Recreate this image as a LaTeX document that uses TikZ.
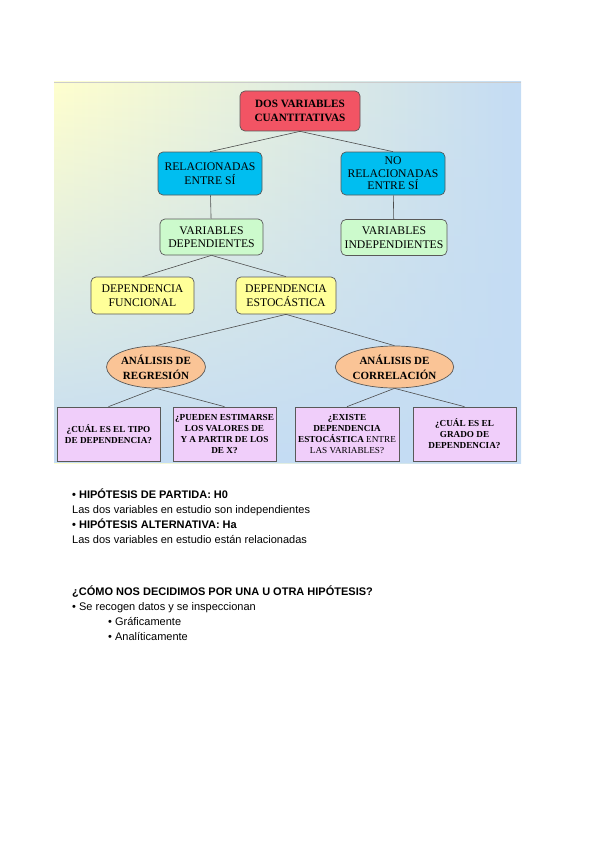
\documentclass[tikz,border=0pt]{standalone}
\usepackage{fontspec}
\setmainfont{Liberation Serif}
\newfontfamily\arialfont{Liberation Sans}
\usetikzlibrary{positioning,shapes.geometric,fadings}

\definecolor{bgyellow}{RGB}{255,255,206}
\definecolor{bgblue}{RGB}{196,220,244}
\definecolor{rootred}{RGB}{242,84,100}
\definecolor{relcyan}{RGB}{0,190,240}
\definecolor{vargreen}{RGB}{204,250,204}
\definecolor{depyellow}{RGB}{255,255,153}
\definecolor{anaorange}{RGB}{250,196,150}
\definecolor{qpink}{RGB}{240,206,250}

\tikzset{
  box/.style={draw=black!65,line width=0.7pt,rounded corners=5pt,align=center,
    inner sep=1pt,font=\fontsize{11.7}{13.5}\selectfont},
  rootbox/.style={box,fill=rootred,minimum width=120pt,minimum height=40pt,
    font=\bfseries\fontsize{11.2}{14.5}\selectfont},
  relbox/.style={box,fill=relcyan,minimum width=104pt,minimum height=43pt},
  varbox/.style={box,fill=vargreen,minimum height=36pt},
  depbox/.style={box,fill=depyellow,minimum height=37pt},
  anaellipse/.style={ellipse,draw=black!65,line width=0.7pt,fill=anaorange,
    minimum width=96pt,minimum height=42pt,inner sep=0pt,align=center,
    font=\bfseries\fontsize{11}{15}\selectfont},
  qbox/.style={draw=black!65,line width=0.7pt,fill=qpink,minimum width=103pt,
    minimum height=54pt,inner sep=1pt,align=center,
    font=\bfseries\fontsize{9.2}{11}\selectfont},
  link/.style={draw=black!70,line width=0.6pt},
  txt/.style={anchor=base west,inner sep=0pt,font=\arialfont\fontsize{11}{13}\selectfont},
  txtb/.style={txt,font=\arialfont\bfseries\fontsize{11}{13}\selectfont}
}

\begin{document}
\begin{tikzpicture}[x=1pt,y=-1pt]
\useasboundingbox (0,0) rectangle (600,848);
% background panel
\shade[left color=bgyellow,right color=bgblue] (54,82) rectangle (521,463);
\fill[bgblue,path fading=north] (54,82) rectangle (521,463);
\draw[black!20,line width=0.8pt] (54,82) -- (521,82);

% tree
\node[rootbox] (root) at (300,111) {DOS VARIABLES\\CUANTITATIVAS};
\node[relbox] (rel) at (210,173.5) {RELACIONADAS\\ENTRE SÍ};
\node[relbox,font=\fontsize{11.7}{12.5}\selectfont] (norel) at (393,173.5) {NO\\RELACIONADAS\\ENTRE SÍ};
\node[varbox,minimum width=103pt] (vdep) at (211.5,237) {VARIABLES\\DEPENDIENTES};
\node[varbox,minimum width=106pt] (vindep) at (394,237.5) {VARIABLES\\INDEPENDIENTES};
\node[depbox,minimum width=103pt] (dfun) at (142.5,295.5) {DEPENDENCIA\\FUNCIONAL};
\node[depbox,minimum width=100pt] (dest) at (286,295.5) {DEPENDENCIA\\ESTOCÁSTICA};
\node[anaellipse] (reg) at (156,367) {ANÁLISIS DE\\REGRESIÓN};
\node[anaellipse] (cor) at (394.5,367) {ANÁLISIS DE\\CORRELACIÓN};
\node[qbox] (q1) at (108.5,434) {¿CUÁL ES EL TIPO\\DE DEPENDENCIA?};
\node[qbox] (q2) at (224.5,434) {¿PUEDEN ESTIMARSE\\LOS VALORES DE\\Y A PARTIR DE LOS\\DE X?};
\node[qbox,minimum width=104pt] (q3) at (347,434) {¿EXISTE\\DEPENDENCIA\\ESTOCÁSTICA \textmd{ENTRE}\\\textmd{LAS VARIABLES?}};
\node[qbox] (q4) at (464.5,434) {¿CUÁL ES EL\\GRADO DE\\DEPENDENCIA?};

\draw[link] (root.south) -- (rel.north);
\draw[link] (root.south) -- (norel.north);
\draw[link] (rel) -- (vdep);
\draw[link] (norel) -- (vindep);
\draw[link] (vdep.south) -- (dfun.north);
\draw[link] (vdep.south) -- (dest.north);
\draw[link] (dest.south) -- (reg.north);
\draw[link] (dest.south) -- (cor.north);
\draw[link] (reg.south) -- (q1.north);
\draw[link] (reg.south) -- (q2.north);
\draw[link] (cor.south) -- (q3.north);
\draw[link] (cor.south) -- (q4.north);

% text below the diagram
\node[txtb] (h0) at (72,498) {• HIPÓTESIS DE PARTIDA: H0};
\node[txt] (h0t) at (72,513) {Las dos variables en estudio son independientes};
\node[txtb] (ha) at (72,528) {• HIPÓTESIS ALTERNATIVA: Ha};
\node[txt] (hat) at (72,543) {Las dos variables en estudio están relacionadas};
\node[txtb] (como) at (72,595) {¿CÓMO NOS DECIDIMOS POR UNA U OTRA HIPÓTESIS?};
\node[txt] (datos) at (72,610) {• Se recogen datos y se inspeccionan};
\node[txt] (graf) at (108,625) {• Gráficamente};
\node[txt] (anal) at (108,640) {• Analíticamente};
\end{tikzpicture}
\end{document}
